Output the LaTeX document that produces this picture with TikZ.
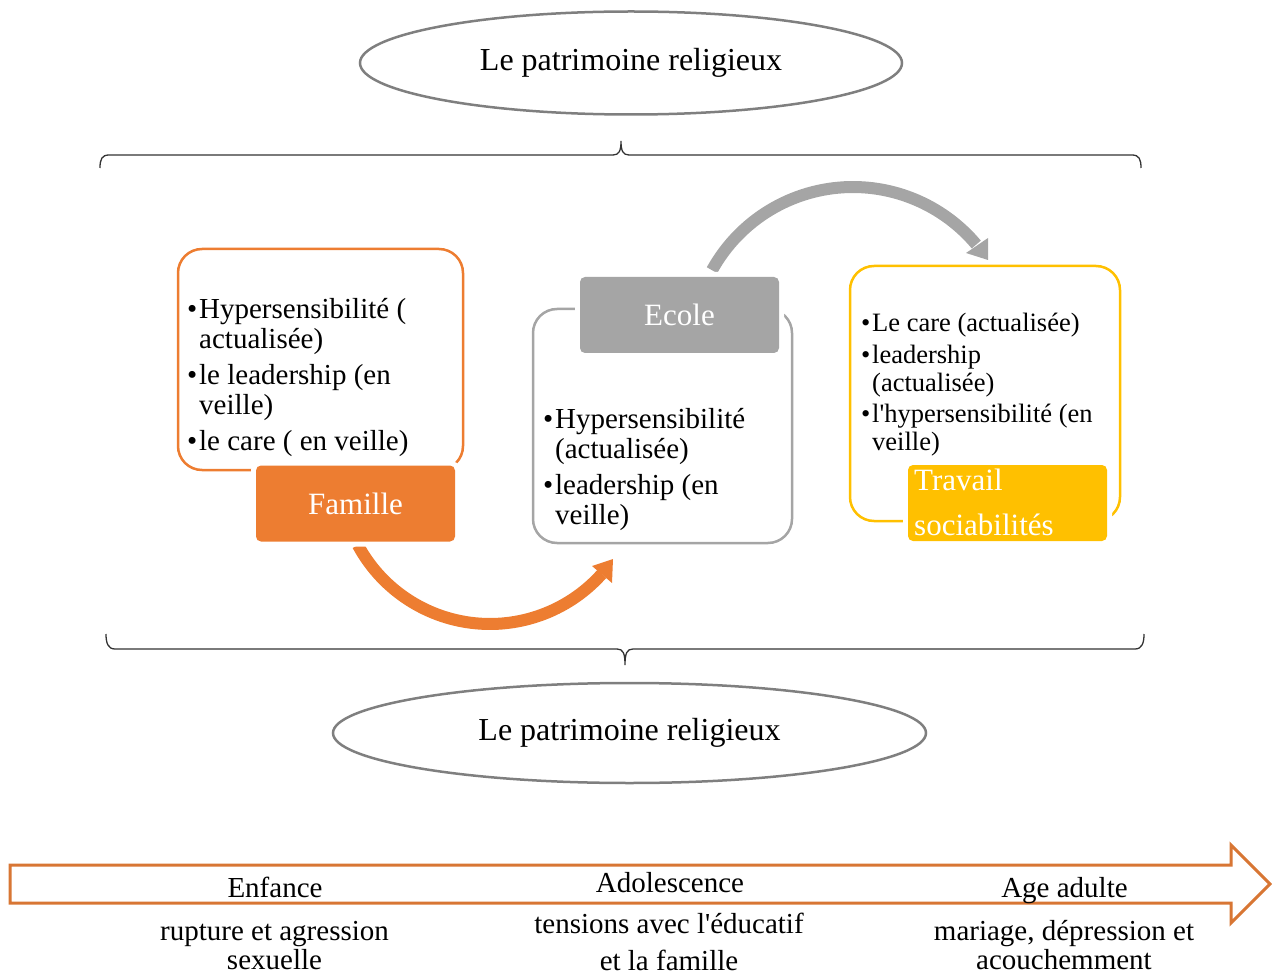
\documentclass[tikz,border=0pt]{standalone}
\usepackage{fontspec}
\setmainfont{Liberation Serif}[Ligatures=TeXOff]
\usetikzlibrary{shapes.geometric}
\definecolor{accorange}{HTML}{ED7D31}
\definecolor{accgray}{HTML}{A5A5A5}
\definecolor{accgold}{HTML}{FFC000}
\definecolor{ellgray}{HTML}{7F7F7F}
\definecolor{tlorange}{RGB}{216,118,52}
\begin{document}
\begin{tikzpicture}[x=1pt,y=-1pt,
  titleell/.style={ellipse, draw=ellgray, line width=2.5pt, inner sep=0pt, font=\fontsize{32}{38}\selectfont},
  framebox/.style={rectangle, rounded corners=24pt, line width=2.5pt, inner sep=0pt},
  labelbox/.style={rectangle, rounded corners=5pt, inner sep=0pt, text=white,
    minimum width=199pt, minimum height=76pt, font=\fontsize{31}{36}\selectfont,
    preaction={draw=white, line width=10pt}},
  labeltext/.style={anchor=base west, inner sep=0pt, text=white, font=\fontsize{31}{36}\selectfont},
  bullets/.style={anchor=base west, inner sep=0pt, align=left},
  bigbullets/.style={bullets, font=\fontsize{29}{30}\selectfont},
  smallbullets/.style={bullets, font=\fontsize{26.5}{27.5}\selectfont},
  bracestyle/.style={draw=black!80, line width=1.3pt},
  arcband/.style={line width=12pt},
  tltext/.style={anchor=base, inner sep=0pt, font=\fontsize{29}{29.5}\selectfont}
]
\useasboundingbox (0,0) rectangle (1272,976);

% ellipses
\node[titleell, minimum width=542pt, minimum height=103pt] (toprel) at (631,63) {Le patrimoine religieux};
\node[titleell, minimum width=593pt, minimum height=100pt] (botrel) at (629.5,733) {Le patrimoine religieux};

% braces
\draw[bracestyle] (100,168) .. controls (100,159) and (102,155) .. (109,155) -- (613,155)
  .. controls (619,155) and (621,151) .. (621,141)
  .. controls (621,151) and (623,155) .. (629,155) -- (1132,155)
  .. controls (1139,155) and (1141,159) .. (1141,168);
\draw[bracestyle] (106,634) .. controls (106,643) and (108,649) .. (115,649) -- (617,649)
  .. controls (623,649) and (625,653) .. (625,665)
  .. controls (625,653) and (627,649) .. (633,649) -- (1135,649)
  .. controls (1142,649) and (1144,643) .. (1144,634);

% frames
\node[framebox, draw=accorange, minimum width=285pt, minimum height=221pt] (famframe) at (320.5,359.5) {};
\node[framebox, draw=accgray, minimum width=259pt, minimum height=234pt] (ecoframe) at (662.5,426) {};
\node[framebox, draw=accgold, minimum width=270pt, minimum height=255pt] (travframe) at (985,393.5) {};

% label positions (coordinates for arrows)
\coordinate (famlabpos) at (355.5,503.5);
\coordinate (ecolabpos) at (679.5,315);

% arrows
\draw[arcband, accorange] ([shift={(2.4,3.1)}]famlabpos |- 0,542) arc[start angle=151.7, end angle=41.8, radius=150];
\fill[accorange] (592,566) -- (613,559) -- (612,583) -- cycle;
\draw[arcband, accgray] (712,270.2) arc[start angle=208.9, end angle=320, radius=161];
\fill[accgray] (966,253) -- (988,238) -- (988,260) -- cycle;

% labels
\node[labelbox, fill=accorange] (famille) at (famlabpos) {Famille};
\node[labelbox, fill=accgray] (ecole) at (ecolabpos) {Ecole};
\node[labelbox, fill=accgold] (travail) at (1007.5,503) {};
\node[labeltext] (travailA) at (914,490) {Travail};
\node[labeltext] (travailB) at (914,535) {sociabilités};

% bullet texts
\node[bigbullets] (famtext) at (187,318.5) {\begin{tabular}[t]{@{}l@{}l@{}}
\makebox[12pt][l]{•}&Hypersensibilité (\\
&actualisée)\\[6pt]
\makebox[12pt][l]{•}&le leadership (en\\
&veille)\\[6pt]
\makebox[12pt][l]{•}&le care ( en veille)
\end{tabular}};
\node[bigbullets] (ecotext) at (543,428.5) {\begin{tabular}[t]{@{}l@{}l@{}}
\makebox[12pt][l]{•}&Hypersensibilité\\
&(actualisée)\\[6pt]
\makebox[12pt][l]{•}&leadership (en\\
&veille)
\end{tabular}};
\node[smallbullets] (travtext) at (861,331.5) {\begin{tabular}[t]{@{}l@{}l@{}}
\makebox[11pt][l]{•}&Le care (actualisée)\\[4.5pt]
\makebox[11pt][l]{•}&leadership\\
&(actualisée)\\[4.5pt]
\makebox[11pt][l]{•}&l'hypersensibilité (en\\
&veille)
\end{tabular}};

% timeline arrow
\draw[draw=tlorange, fill=white, line width=3pt] (10,865) -- (1231,865) -- (1231,845) -- (1270,884) -- (1231,923) -- (1231,903) -- (10,903) -- cycle;
\node[tltext] (enf) at (275,897) {Enfance};
\node[tltext] (ado) at (670,892) {Adolescence};
\node[tltext] (adu) at (1064.5,897) {Age adulte};
\node[tltext] (enfd) at (274.5,940) {\begin{tabular}[t]{@{}c@{}}rupture et agression\\ sexuelle\end{tabular}};
\node[tltext] (adod) at (669,933) {\begin{tabular}[t]{@{}c@{}}tensions avec l'éducatif\\[7.5pt] et la famille\end{tabular}};
\node[tltext] (adud) at (1064,940) {\begin{tabular}[t]{@{}c@{}}mariage, dépression et\\ acouchemment\end{tabular}};
\end{tikzpicture}
\end{document}
